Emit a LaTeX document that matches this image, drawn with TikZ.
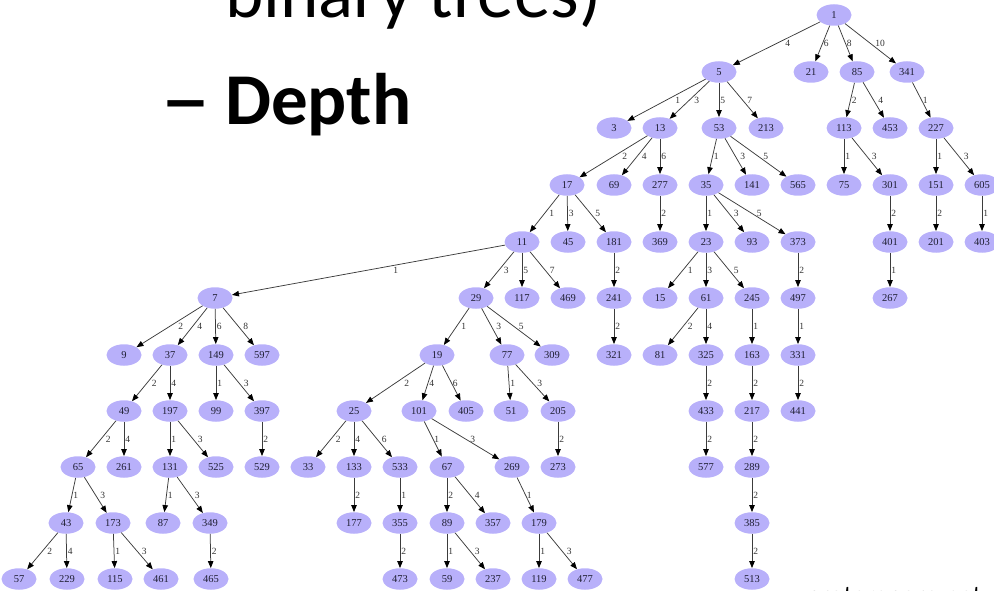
\documentclass[tikz,border=0pt]{standalone}
\usepackage{fontspec}
\usetikzlibrary{shapes.geometric,arrows.meta}
\newfontfamily\gvfont{Liberation Serif}
\newfontfamily\slidefont{Carlito}
\definecolor{nodefill}{RGB}{184,176,250}
\definecolor{edgegray}{RGB}{60,60,60}
\definecolor{nodetext}{RGB}{30,30,50}
\begin{document}
\begin{tikzpicture}[x=1pt,y=-1pt,
  nd/.style={ellipse, fill=nodefill, draw=none, minimum width=35pt, minimum height=21.5pt,
    inner sep=0pt, font=\gvfont\fontsize{10.5}{10.5}\selectfont, text=nodetext},
  ed/.style={draw=edgegray, line width=0.75pt, -{Triangle[length=7pt,width=5.5pt,color=black]}},
  lbl/.style={font=\gvfont\fontsize{9.5}{9.5}\selectfont, text=black!80, inner sep=0.5pt, midway, anchor=west},
  ln/.style={lbl, xshift=0.5pt},
  lm/.style={lbl, xshift=4pt},
  lw/.style={lbl, xshift=8pt}]
\useasboundingbox (0,0) rectangle (994,591);
\clip (0,0) rectangle (994,591);

% slide text
\node[anchor=base west, inner sep=0, font=\slidefont\fontsize{73}{73}\selectfont] (tline) at (225,18) {binary trees)};
\node[anchor=base west, inner sep=0, font=\slidefont\bfseries\fontsize{73}{73}\selectfont] (tdash) at (160,125) {\scalebox{1.4}[1]{–}};
\node[anchor=base west, inner sep=0, font=\slidefont\bfseries\fontsize{73}{73}\selectfont] (tdepth) at (225,125) {Depth};
\node[anchor=base west, inner sep=0, font=\slidefont\fontsize{27}{27}\selectfont] (tsrc) at (806,604) {protempore.net};

% row 0
\node[nd] (n1) at (834,15) {1};
% row 1
\node[nd] (n5) at (719,72) {5};
\node[nd] (n21) at (811,72) {21};
\node[nd] (n85) at (857,72) {85};
\node[nd] (n341) at (907,72) {341};
% row 2
\node[nd] (n3) at (614,128) {3};
\node[nd] (n13) at (660,128) {13};
\node[nd] (n53) at (719,128) {53};
\node[nd] (n213) at (766,128) {213};
\node[nd] (n113) at (844,128) {113};
\node[nd] (n453) at (890,128) {453};
\node[nd] (n227) at (936,128) {227};
% row 3
\node[nd] (n17) at (567,185) {17};
\node[nd] (n69) at (614,185) {69};
\node[nd] (n277) at (660,185) {277};
\node[nd] (n35) at (706,185) {35};
\node[nd] (n141) at (752,185) {141};
\node[nd] (n565) at (798,185) {565};
\node[nd] (n75) at (844,185) {75};
\node[nd] (n301) at (890,185) {301};
\node[nd] (n151) at (936,185) {151};
\node[nd] (n605) at (982,185) {605};
% row 4
\node[nd] (n11) at (522,242) {11};
\node[nd] (n45) at (568,242) {45};
\node[nd] (n181) at (614,242) {181};
\node[nd] (n369) at (660,242) {369};
\node[nd] (n23) at (706,242) {23};
\node[nd] (n93) at (752,242) {93};
\node[nd] (n373) at (798,242) {373};
\node[nd] (n401) at (890,242) {401};
\node[nd] (n201) at (936,242) {201};
\node[nd] (n403) at (982,242) {403};
% row 5
\node[nd] (n7) at (215,298) {7};
\node[nd] (n29) at (476,298) {29};
\node[nd] (n117) at (522,298) {117};
\node[nd] (n469) at (568,298) {469};
\node[nd] (n241) at (614,298) {241};
\node[nd] (n15) at (660,298) {15};
\node[nd] (n61) at (706,298) {61};
\node[nd] (n245) at (752,298) {245};
\node[nd] (n497) at (798,298) {497};
\node[nd] (n267) at (890,298) {267};
% row 6
\node[nd] (n9) at (124,355) {9};
\node[nd] (n37) at (170,355) {37};
\node[nd] (n149) at (216,355) {149};
\node[nd] (n597) at (262,355) {597};
\node[nd] (n19) at (437,355) {19};
\node[nd] (n77) at (507,355) {77};
\node[nd] (n309) at (552,355) {309};
\node[nd] (n321) at (614,355) {321};
\node[nd] (n81) at (660,355) {81};
\node[nd] (n325) at (706,355) {325};
\node[nd] (n163) at (752,355) {163};
\node[nd] (n331) at (798,355) {331};
% row 7
\node[nd] (n49) at (124,411) {49};
\node[nd] (n197) at (170,411) {197};
\node[nd] (n99) at (216,411) {99};
\node[nd] (n397) at (262,411) {397};
\node[nd] (n25) at (354,411) {25};
\node[nd] (n101) at (419,411) {101};
\node[nd] (n405) at (466,411) {405};
\node[nd] (n51) at (511,411) {51};
\node[nd] (n205) at (558,411) {205};
\node[nd] (n433) at (706,411) {433};
\node[nd] (n217) at (752,411) {217};
\node[nd] (n441) at (798,411) {441};
% row 8
\node[nd] (n65) at (78,467) {65};
\node[nd] (n261) at (124,467) {261};
\node[nd] (n131) at (170,467) {131};
\node[nd] (n525) at (216,467) {525};
\node[nd] (n529) at (262,467) {529};
\node[nd] (n33) at (308,467) {33};
\node[nd] (n133) at (354,467) {133};
\node[nd] (n533) at (400,467) {533};
\node[nd] (n67) at (447,467) {67};
\node[nd] (n269) at (512,467) {269};
\node[nd] (n273) at (558,467) {273};
\node[nd] (n577) at (706,467) {577};
\node[nd] (n289) at (752,467) {289};
% row 9
\node[nd] (n43) at (66,523) {43};
\node[nd] (n173) at (113,523) {173};
\node[nd] (n87) at (163,523) {87};
\node[nd] (n349) at (210,523) {349};
\node[nd] (n177) at (354,523) {177};
\node[nd] (n355) at (400,523) {355};
\node[nd] (n89) at (447,523) {89};
\node[nd] (n357) at (493,523) {357};
\node[nd] (n179) at (539,523) {179};
\node[nd] (n385) at (752,523) {385};
% row 10
\node[nd] (n57) at (19,579) {57};
\node[nd] (n229) at (67,579) {229};
\node[nd] (n115) at (115,579) {115};
\node[nd] (n461) at (161,579) {461};
\node[nd] (n465) at (211,579) {465};
\node[nd] (n473) at (400,579) {473};
\node[nd] (n59) at (447,579) {59};
\node[nd] (n237) at (493,579) {237};
\node[nd] (n119) at (539,579) {119};
\node[nd] (n477) at (585,579) {477};
\node[nd] (n513) at (752,579) {513};

% edges, labelled with the step
\draw[ed] (n1) -- node[lw] {4} (n5);
\draw[ed] (n1) -- node[ln] {6} (n21);
\draw[ed] (n1) -- node[ln] {8} (n85);
\draw[ed] (n1) -- node[lm] {10} (n341);
\draw[ed] (n5) -- node[lw] {1} (n3);
\draw[ed] (n5) -- node[lm] {3} (n13);
\draw[ed] (n5) -- node[ln] {5} (n53);
\draw[ed] (n5) -- node[lm] {7} (n213);
\draw[ed] (n85) -- node[ln] {2} (n113);
\draw[ed] (n85) -- node[lm] {4} (n453);
\draw[ed] (n341) -- node[ln] {1} (n227);
\draw[ed] (n13) -- node[lw] {2} (n17);
\draw[ed] (n13) -- node[lm] {4} (n69);
\draw[ed] (n13) -- node[ln] {6} (n277);
\draw[ed] (n53) -- node[ln] {1} (n35);
\draw[ed] (n53) -- node[lm] {3} (n141);
\draw[ed] (n53) -- node[lm] {5} (n565);
\draw[ed] (n113) -- node[ln] {1} (n75);
\draw[ed] (n113) -- node[lm] {3} (n301);
\draw[ed] (n227) -- node[ln] {1} (n151);
\draw[ed] (n227) -- node[lm] {3} (n605);
\draw[ed] (n17) -- node[lm] {1} (n11);
\draw[ed] (n17) -- node[ln] {3} (n45);
\draw[ed] (n17) -- node[lm] {5} (n181);
\draw[ed] (n277) -- node[ln] {2} (n369);
\draw[ed] (n35) -- node[ln] {1} (n23);
\draw[ed] (n35) -- node[lm] {3} (n93);
\draw[ed] (n35) -- node[lm] {5} (n373);
\draw[ed] (n301) -- node[ln] {2} (n401);
\draw[ed] (n151) -- node[ln] {2} (n201);
\draw[ed] (n605) -- node[ln] {1} (n403);
\draw[ed] (n11) -- node[lbl, pos=.4, anchor=north, yshift=-1pt] {1} (n7);
\draw[ed] (n11) -- node[lm] {3} (n29);
\draw[ed] (n11) -- node[ln] {5} (n117);
\draw[ed] (n11) -- node[lm] {7} (n469);
\draw[ed] (n181) -- node[ln] {2} (n241);
\draw[ed] (n23) -- node[lm] {1} (n15);
\draw[ed] (n23) -- node[ln] {3} (n61);
\draw[ed] (n23) -- node[lm] {5} (n245);
\draw[ed] (n373) -- node[ln] {2} (n497);
\draw[ed] (n401) -- node[ln] {1} (n267);
\draw[ed] (n7) -- node[lw] {2} (n9);
\draw[ed] (n7) -- node[lm] {4} (n37);
\draw[ed] (n7) -- node[ln] {6} (n149);
\draw[ed] (n7) -- node[lm] {8} (n597);
\draw[ed] (n29) -- node[lm] {1} (n19);
\draw[ed] (n29) -- node[lm] {3} (n77);
\draw[ed] (n29) -- node[lm] {5} (n309);
\draw[ed] (n241) -- node[ln] {2} (n321);
\draw[ed] (n61) -- node[lm] {2} (n81);
\draw[ed] (n61) -- node[ln] {4} (n325);
\draw[ed] (n245) -- node[ln] {1} (n163);
\draw[ed] (n497) -- node[ln] {1} (n331);
\draw[ed] (n37) -- node[lm] {2} (n49);
\draw[ed] (n37) -- node[ln] {4} (n197);
\draw[ed] (n149) -- node[ln] {1} (n99);
\draw[ed] (n149) -- node[lm] {3} (n397);
\draw[ed] (n19) -- node[lw] {2} (n25);
\draw[ed] (n19) -- node[ln] {4} (n101);
\draw[ed] (n19) -- node[ln] {6} (n405);
\draw[ed] (n77) -- node[ln] {1} (n51);
\draw[ed] (n77) -- node[lm] {3} (n205);
\draw[ed] (n325) -- node[ln] {2} (n433);
\draw[ed] (n163) -- node[ln] {2} (n217);
\draw[ed] (n331) -- node[ln] {2} (n441);
\draw[ed] (n49) -- node[lm] {2} (n65);
\draw[ed] (n49) -- node[ln] {4} (n261);
\draw[ed] (n197) -- node[ln] {1} (n131);
\draw[ed] (n197) -- node[lm] {3} (n525);
\draw[ed] (n397) -- node[ln] {2} (n529);
\draw[ed] (n25) -- node[lm] {2} (n33);
\draw[ed] (n25) -- node[ln] {4} (n133);
\draw[ed] (n25) -- node[lm] {6} (n533);
\draw[ed] (n101) -- node[ln] {1} (n67);
\draw[ed] (n101) -- node[lm] {3} (n269);
\draw[ed] (n205) -- node[ln] {2} (n273);
\draw[ed] (n433) -- node[ln] {2} (n577);
\draw[ed] (n217) -- node[ln] {2} (n289);
\draw[ed] (n65) -- node[ln] {1} (n43);
\draw[ed] (n65) -- node[lm] {3} (n173);
\draw[ed] (n131) -- node[ln] {1} (n87);
\draw[ed] (n131) -- node[lm] {3} (n349);
\draw[ed] (n133) -- node[ln] {2} (n177);
\draw[ed] (n533) -- node[ln] {1} (n355);
\draw[ed] (n67) -- node[ln] {2} (n89);
\draw[ed] (n67) -- node[lm] {4} (n357);
\draw[ed] (n269) -- node[ln] {1} (n179);
\draw[ed] (n289) -- node[ln] {2} (n385);
\draw[ed] (n43) -- node[lm] {2} (n57);
\draw[ed] (n43) -- node[ln] {4} (n229);
\draw[ed] (n173) -- node[ln] {1} (n115);
\draw[ed] (n173) -- node[lm] {3} (n461);
\draw[ed] (n349) -- node[ln] {2} (n465);
\draw[ed] (n355) -- node[ln] {2} (n473);
\draw[ed] (n89) -- node[ln] {1} (n59);
\draw[ed] (n89) -- node[lm] {3} (n237);
\draw[ed] (n179) -- node[ln] {1} (n119);
\draw[ed] (n179) -- node[lm] {3} (n477);
\draw[ed] (n385) -- node[ln] {2} (n513);
\end{tikzpicture}
\end{document}
